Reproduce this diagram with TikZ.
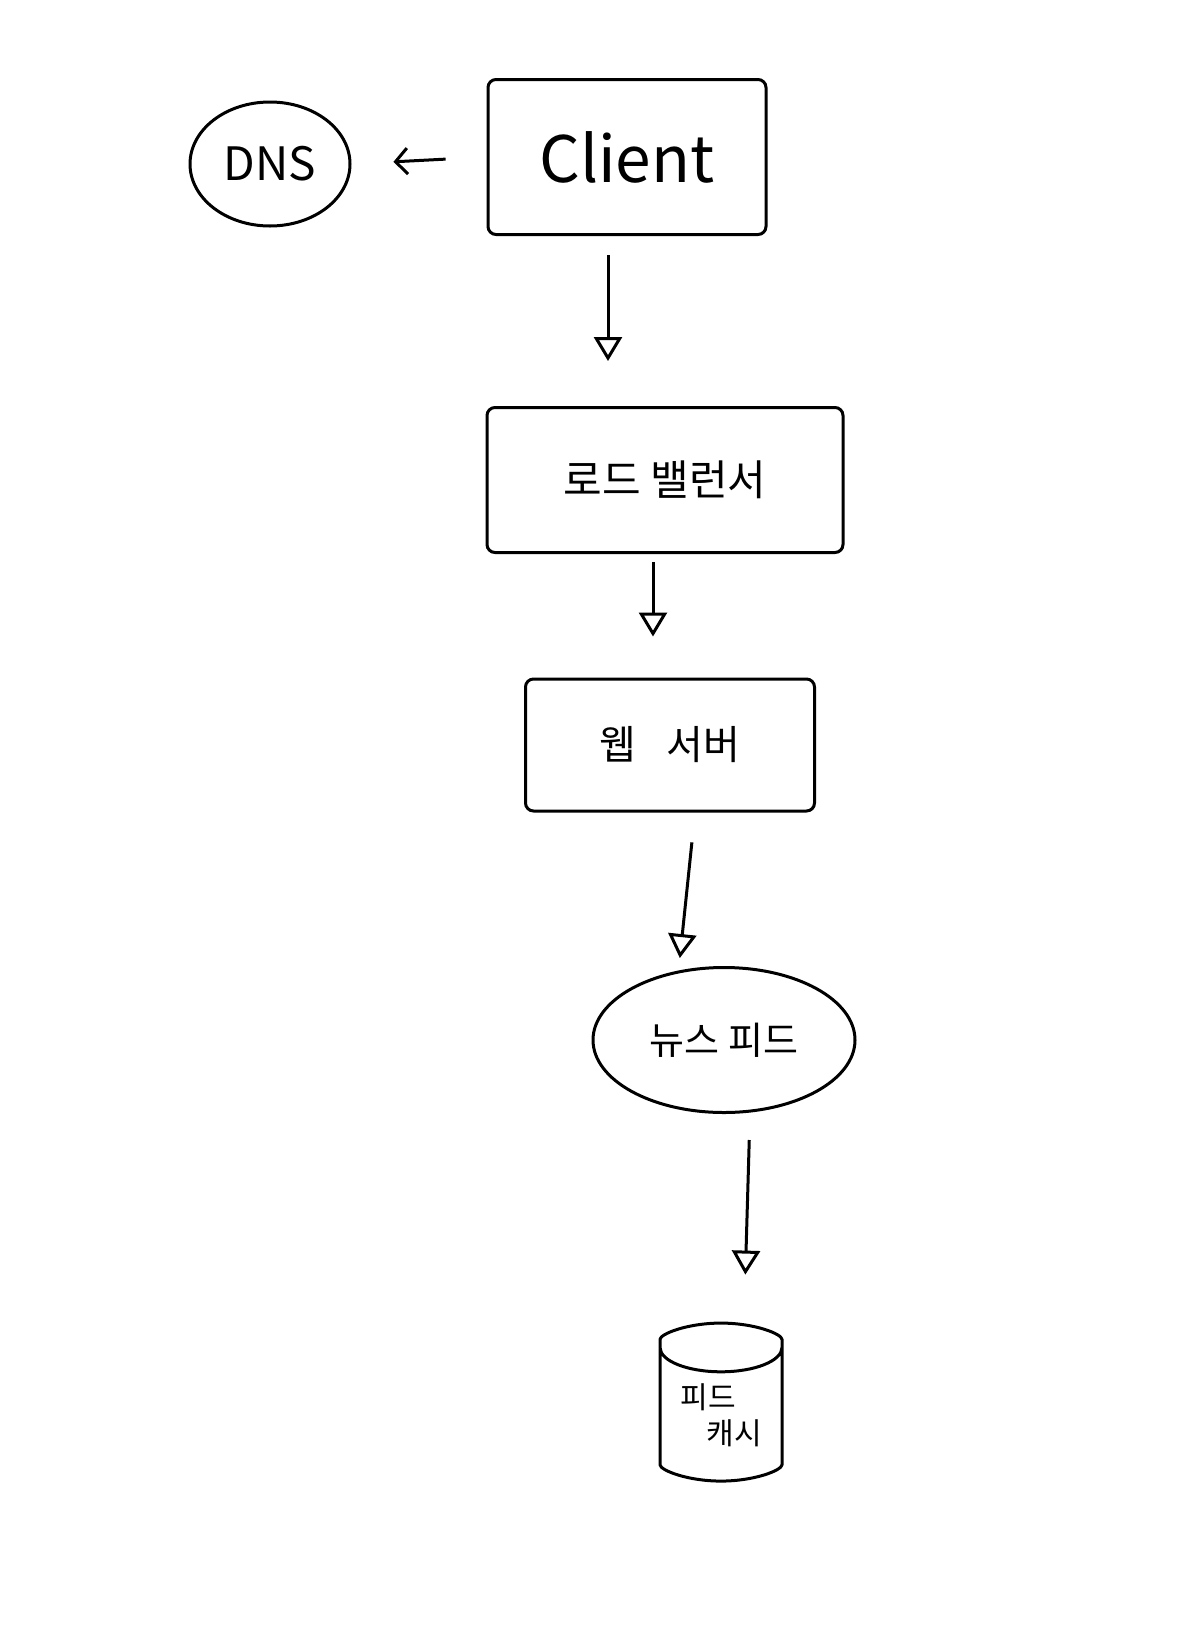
\documentclass[tikz,border=0pt]{standalone}
\usepackage{fontspec}
\newfontfamily\krfont{Noto Sans CJK KR}
\usetikzlibrary{arrows.meta,shapes.geometric}

\begin{document}
\begin{tikzpicture}[x=1pt, y=-1pt, line width=3pt,
    box/.style={draw, rounded corners=8pt, inner sep=0pt, align=center, font=\krfont},
    flow/.style={-{Triangle[open, length=24pt, width=28pt, line width=3pt]}},
    ]
    \useasboundingbox (0,0) rectangle (1204,1652);

    % Client and DNS
    \node[box, ellipse, minimum width=160, minimum height=124,
        font=\krfont\fontsize{46}{46}\selectfont] (dns) at (270,164) {DNS};
    \node[box, minimum width=278, minimum height=155,
        font=\krfont\fontsize{64}{64}\selectfont] (client) at (627,157) {Client};

    % Load balancer and web server
    \node[box, minimum width=356, minimum height=145,
        font=\krfont\fontsize{42}{42}\selectfont] (lb) at (665,480) {로드 밸런서};
    \node[box, minimum width=289, minimum height=132,
        font=\krfont\fontsize{40}{40}\selectfont] (web) at (670,745) {웹\hspace{30pt}서버};

    % News feed and feed cache
    \node[box, ellipse, minimum width=262, minimum height=145,
        font=\krfont\fontsize{38}{38}\selectfont] (news) at (724,1040) {뉴스 피드};
    \node[box, cylinder, shape border rotate=90, aspect=0.6,
        minimum width=122, minimum height=158, align=left,
        font=\krfont\fontsize{30}{36}\selectfont] (cache) at (721,1415) {피드\\\hspace{26pt}캐시};

    % Connectors
    \draw[-{Straight Barb[length=12pt, width=26pt]}, shorten <=41pt, shorten >=42pt]
        (client.west) -- (dns.east);
    \draw[flow, shorten <=19pt, shorten >=45pt] ([xshift=-19pt]client.south) -- ([xshift=-57pt]lb.north);
    \draw[flow, shorten <=8pt, shorten >=41pt] ([xshift=-12pt]lb.south) -- ([xshift=-17pt]web.north);
    \draw[flow, shorten <=30pt, shorten >=8pt] ([xshift=25pt]web.south) -- ([xshift=-45pt]news.north);
    \draw[flow, shorten <=26pt, shorten >=47pt] ([xshift=26pt]news.south) -- ([xshift=23pt]cache.north);
\end{tikzpicture}
\end{document}
